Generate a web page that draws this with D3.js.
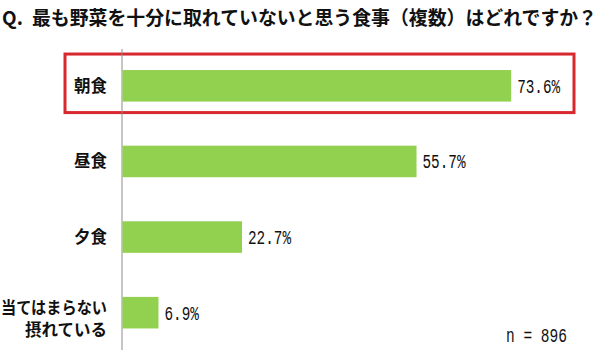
<!DOCTYPE html>
<html>
<head>
<meta charset="utf-8">
<script src="https://cdn.jsdelivr.net/npm/d3@7"></script>
<style>
  html, body { margin: 0; padding: 0; background: #fff; }
  svg { display: block; }
  text { font-family: "Noto Sans CJK JP", "Noto Sans", sans-serif; fill: #111; }
  .num { font-family: "Liberation Mono", "DejaVu Sans Mono", monospace; }
</style>
</head>
<body>
<svg id="chart" width="600" height="356"></svg>
<script>
const titlePrefix = "Q.";
const title = "最も野菜を十分に取れていないと思う食事（複数）はどれですか？";
const categories = ["朝食", "昼食", "夕食", "当てはまらない\n摂れている"];
const values = [73.6, 55.7, 22.7, 6.9];
const valueLabels = ["73.6%", "55.7%", "22.7%", "6.9%"];
const sampleNote = "n = 896";
const highlighted = ["朝食"];

const svg = d3.select("#chart");

const x = d3.scaleLinear().domain([0, 80]).range([122, 545]);
const y = d3.scaleBand().domain(categories).range([48, 350.5])
  .paddingInner(0.583).paddingOuter(0.2915);

// Title
svg.append("text")
  .attr("x", 2).attr("y", 25)
  .attr("font-size", 19).attr("font-weight", 700)
  .text(titlePrefix);
svg.append("text")
  .attr("x", 32).attr("y", 25)
  .attr("font-size", 19).attr("font-weight", 700)
  .attr("textLength", 565).attr("lengthAdjust", "spacingAndGlyphs")
  .text(title);

// Highlight box
highlighted.forEach(c => {
  svg.append("rect")
    .attr("x", 65).attr("y", y(c) - 16)
    .attr("width", 509).attr("height", y.bandwidth() + 27)
    .attr("fill", "none").attr("stroke", "#d9272e").attr("stroke-width", 3);
});

// Axis line
svg.append("line")
  .attr("x1", x(0)).attr("x2", x(0))
  .attr("y1", 49).attr("y2", 350)
  .attr("stroke", "#8c8c8c").attr("stroke-width", 1);

// Bars
svg.selectAll("rect.bar").data(categories).join("rect")
  .attr("class", "bar")
  .attr("x", x(0) + 0.5)
  .attr("y", d => y(d))
  .attr("width", (d, i) => x(values[i]) - x(0) - 0.5)
  .attr("height", y.bandwidth())
  .attr("fill", "#92d050");

// Value labels
svg.selectAll("text.val").data(categories).join("text")
  .attr("class", "val num")
  .attr("x", (d, i) => x(values[i]) + 6)
  .attr("y", d => y(d) + y.bandwidth() / 2)
  .attr("dy", "0.36em")
  .attr("font-size", 19.5)
  .attr("textLength", (d, i) => valueLabels[i].length * 8.6)
  .attr("lengthAdjust", "spacingAndGlyphs")
  .text((d, i) => valueLabels[i]);

// Category labels
categories.forEach(c => {
  const lines = c.split("\n");
  const cy = y(c) + y.bandwidth() / 2;
  const t = svg.append("text")
    .attr("text-anchor", "end")
    .attr("font-size", 16.5).attr("font-weight", 700);
  if (lines.length === 1) {
    t.append("tspan").attr("x", 107).attr("y", cy).attr("dy", "0.36em").text(lines[0]);
  } else {
    t.append("tspan").attr("x", 107).attr("y", cy - 4.5).attr("dy", "0.36em")
      .attr("textLength", 106).attr("lengthAdjust", "spacingAndGlyphs").text(lines[0]);
    t.append("tspan").attr("x", 107).attr("y", cy + 17.5).attr("dy", "0.36em").text(lines[1]);
  }
});

// Sample note
svg.append("text")
  .attr("class", "num")
  .attr("x", 506).attr("y", 335).attr("dy", "0.36em")
  .attr("font-size", 19.5)
  .attr("textLength", 61).attr("lengthAdjust", "spacingAndGlyphs")
  .text(sampleNote);
</script>
</body>
</html>
